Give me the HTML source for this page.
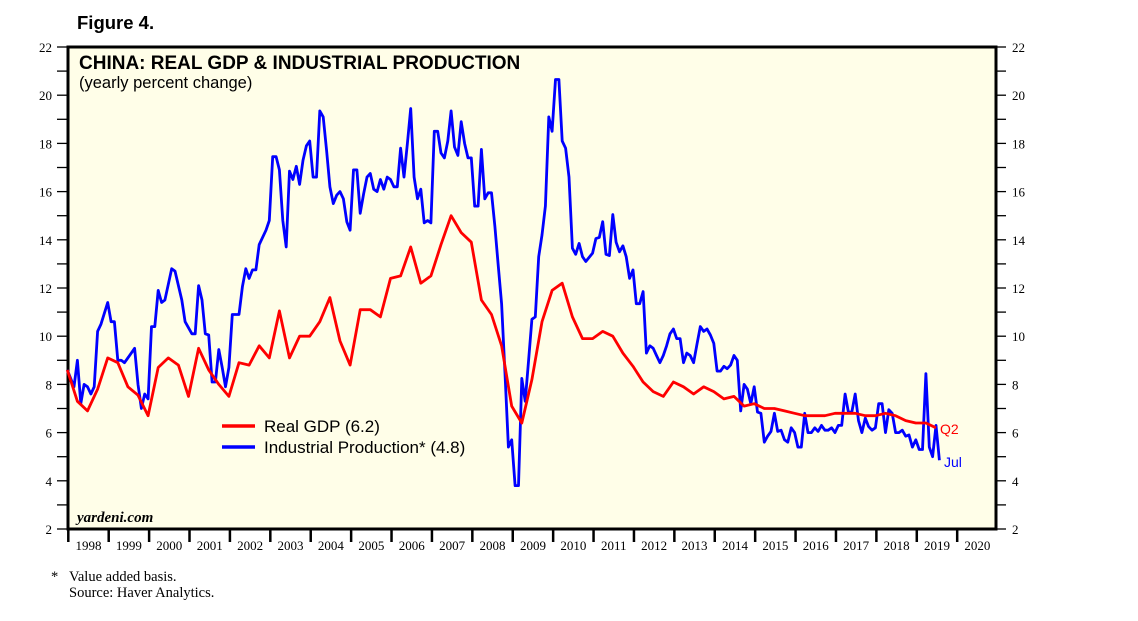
<!DOCTYPE html>
<html><head><meta charset="utf-8"><style>
body{margin:0;background:#fff;}
svg{display:block;}
</style></head><body>
<svg id="chart" width="1138" height="621" viewBox="0 0 1138 621" xmlns="http://www.w3.org/2000/svg">
<text x="77" y="29" font-family="Liberation Sans, sans-serif" font-weight="bold" font-size="18.5">Figure 4.</text>
<rect x="68" y="47" width="928" height="482" fill="#fffee8" stroke="#000" stroke-width="3"/>
<text x="79" y="69" font-family="Liberation Sans, sans-serif" font-weight="bold" font-size="19">CHINA: REAL GDP &amp; INDUSTRIAL PRODUCTION</text>
<text x="79" y="88" font-family="Liberation Sans, sans-serif" font-size="16.5">(yearly percent change)</text>
<text x="77" y="522" font-family="Liberation Serif, serif" font-style="italic" font-weight="bold" font-size="15">yardeni.com</text>
<g id="axes"></g>
<g id="series"></g>
<g>
<line x1="222" y1="426" x2="255" y2="426" stroke="#f00" stroke-width="3.5"/>
<text x="264" y="432" font-family="Liberation Sans, sans-serif" font-size="17">Real GDP (6.2)</text>
<line x1="222" y1="447" x2="255" y2="447" stroke="#00f" stroke-width="3.5"/>
<text x="264" y="453" font-family="Liberation Sans, sans-serif" font-size="17">Industrial Production* (4.8)</text>
</g>
<text x="940" y="434" fill="#f00" font-family="Liberation Sans, sans-serif" font-size="14">Q2</text>
<text x="944" y="467" fill="#00f" font-family="Liberation Sans, sans-serif" font-size="14">Jul</text>
<text x="51" y="581" font-family="Liberation Serif, serif" font-size="14.5">*</text>
<text x="69" y="581" font-family="Liberation Serif, serif" font-size="14.5">Value added basis.</text>
<text x="69" y="597" font-family="Liberation Serif, serif" font-size="14.5">Source: Haver Analytics.</text>
</svg>
<script>
const yTicks=[2,4,6,8,10,12,14,16,18,20,22];
const years=[1998,1999,2000,2001,2002,2003,2004,2005,2006,2007,2008,2009,2010,2011,2012,2013,2014,2015,2016,2017,2018,2019,2020];
const gdpValues=[8.6,7.3,6.9,7.8, 9.1,8.9,7.9,7.55, 6.7,8.7,9.1,8.8, 7.5,9.5,8.6,8.0, 7.5,8.9,8.8,9.6, 9.1,11.05,9.1,10.0, 10.0,10.6,11.6,9.8, 8.8,11.1,11.1,10.8, 12.4,12.5,13.7,12.2, 12.5,13.8,15.0,14.3, 13.9,11.5,10.9,9.6, 7.1,6.4,8.2,10.6, 11.9,12.2,10.8,9.9, 9.9,10.2,10.0,9.3, 8.75,8.1,7.7,7.5, 8.1,7.9,7.6,7.9, 7.7,7.4,7.5,7.1, 7.2,7.0,7.0,6.9, 6.8,6.7,6.7,6.7, 6.8,6.8,6.8,6.7, 6.7,6.8,6.7,6.5, 6.4,6.4,6.2];
const ipMonths=[0,2,3,4,5,6,7,8,9,10,12,13,14,15,16,17,20,21,22,23,24,25,26,27,28,29,31,32,34,35,37,38,39,40,41,42,43,44,45,46,47,48,49,51,52,53,54,55,56,57,59,60,61,62,63,64,65,66,67,68,69,70,71,72,73,74,75,76,77,78,79,80,81,82,83,84,85,86,87,88,89,90,91,92,93,94,95,96,97,98,99,100,101,102,103,104,105,106,107,108,109,110,111,112,113,114,115,116,117,118,119,120,121,122,123,124,125,126,127,128,129,130,131,132,133,134,135,136,137,138,139,140,141,142,143,144,145,146,147,148,149,150,151,152,153,154,156,157,158,159,160,161,162,163,164,165,166,167,168,169,170,171,172,173,174,175,176,177,178,179,180,181,182,183,184,185,186,187,188,189,190,191,192,193,194,195,196,197,198,199,200,201,202,203,204,205,206,207,208,209,210,211,212,213,214,215,216,217,218,219,220,221,222,223,224,225,226,227,228,229,230,231,232,233,234,235,236,237,238,239,240,241,242,243,244,245,246,247,248,249,250,251,252,253,254,255,256,257,258,259];
const ipValues=[8.6,7.9,9.0,7.2,8.0,7.9,7.6,7.9,10.2,10.5,11.4,10.6,10.6,9.0,9.0,8.9,9.5,8.0,7.0,7.6,7.4,10.4,10.4,11.9,11.4,11.5,12.8,12.7,11.5,10.6,10.1,10.1,12.1,11.5,10.1,10.05,8.1,8.1,9.45,8.7,7.9,8.7,10.9,10.9,12.05,12.8,12.4,12.75,12.75,13.8,14.4,14.8,17.45,17.45,16.9,14.8,13.7,16.85,16.5,17.05,16.3,17.3,17.9,18.1,16.6,16.6,19.35,19.1,17.7,16.2,15.5,15.85,16.0,15.7,14.75,14.4,16.9,16.9,15.1,15.9,16.6,16.75,16.1,16.0,16.5,16.1,16.6,16.5,16.2,16.2,17.8,16.6,18.0,19.45,16.6,15.7,16.1,14.7,14.8,14.7,18.5,18.5,17.6,17.4,18.1,19.35,17.85,17.5,18.9,18.0,17.4,17.4,15.4,15.4,17.75,15.7,15.95,15.95,14.55,12.9,11.35,8.45,5.4,5.7,3.8,3.8,8.25,7.3,9.0,10.7,10.8,13.3,14.2,15.4,19.1,18.5,20.65,20.65,18.1,17.8,16.6,13.65,13.4,13.85,13.3,13.1,13.45,14.05,14.1,14.75,13.4,13.35,15.05,13.9,13.5,13.75,13.3,12.4,12.75,11.35,11.35,11.85,9.3,9.6,9.5,9.2,8.9,9.2,9.6,10.1,10.3,9.9,9.9,8.9,9.3,9.2,8.9,9.65,10.4,10.2,10.3,10.05,9.7,8.55,8.55,8.75,8.65,8.8,9.2,9.0,6.9,8.0,7.8,7.2,7.9,6.85,6.8,5.6,5.85,6.05,6.8,6.05,6.1,5.7,5.6,6.2,6.0,5.4,5.4,6.8,6.0,6.0,6.2,6.05,6.3,6.1,6.1,6.2,6.0,6.3,6.3,7.6,6.85,6.85,7.6,6.5,6.0,6.6,6.25,6.1,6.2,7.2,7.2,6.0,6.95,6.8,6.0,6.0,6.1,5.85,5.9,5.4,5.7,5.3,5.3,8.45,5.4,5.0,6.3,4.85];

const NS='http://www.w3.org/2000/svg';
const X0=67.3, PXM=3.367;
function xm(m){return X0+m*PXM;}
function xy(year){return X0+(year-1998)*12*PXM;}
function yv(v){return 529-(v-2)*24.1;}
function mk(tag,attrs,parent){const e=document.createElementNS(NS,tag);for(const k in attrs)e.setAttribute(k,attrs[k]);parent.appendChild(e);return e;}
const axes=document.getElementById('axes');
const series=document.getElementById('series');
for(let v=2;v<=22;v++){
  const l=mk('line',{x1:57,x2:67,y1:yv(v),y2:yv(v),stroke:'#000','stroke-width':1.3},axes);
  
  
  const r=mk('line',{x1:997,x2:1006,y1:yv(v),y2:yv(v),stroke:'#000','stroke-width':1.3},axes);
  
  
}
yTicks.forEach(v=>{
  const t=mk('text',{x:52,y:yv(v)+5,'text-anchor':'end','font-family':'Liberation Serif, serif','font-size':13},axes);
  t.textContent=v;
  
  
  const t2=mk('text',{x:1012,y:yv(v)+5,'font-family':'Liberation Serif, serif','font-size':13},axes);
  t2.textContent=v;
  
  
});
years.forEach(yr=>{
  const l=mk('line',{x1:xy(yr)+1,x2:xy(yr)+1,y1:529,y2:542,stroke:'#000','stroke-width':2.5},axes);
  
  
  const t=mk('text',{x:xy(yr+0.5)+1,y:550,'text-anchor':'middle','font-family':'Liberation Serif, serif','font-size':13},axes);
  t.textContent=yr;
  
  
});
const ipPts=ipValues.map((v,i)=>xm(ipMonths[i]).toFixed(1)+','+yv(v).toFixed(1)).join(' ');
const ip=mk('polyline',{points:ipPts,fill:'none',stroke:'#0000ff','stroke-width':2.8,'stroke-linejoin':'round'},series);


const gdpPts=gdpValues.map((v,i)=>xm(i*3).toFixed(1)+','+yv(v).toFixed(1)).join(' ');
const gdp=mk('polyline',{points:gdpPts,fill:'none',stroke:'#ff0000','stroke-width':2.8,'stroke-linejoin':'round'},series);


</script>
</body></html>
